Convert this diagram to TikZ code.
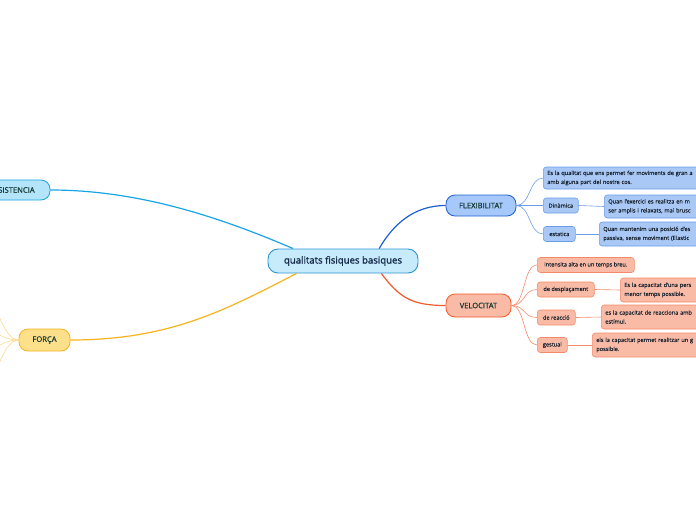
\documentclass[tikz,border=0pt]{standalone}
\usepackage{fontspec}
\setmainfont{Open Sans}[FakeBold=0.4]
\newfontfamily\titlefont{Open Sans}[FakeBold=1.6]
\newfontfamily\mainfont{Open Sans}[FakeBold=0.8]
\definecolor{rootF}{HTML}{C8EBFB}
\definecolor{rootB}{HTML}{2A94D6}
\definecolor{rootT}{HTML}{172B4D}
\definecolor{mainT}{HTML}{173A35}
\definecolor{leafT}{HTML}{1B2430}
\definecolor{flexF}{HTML}{A6C8FB}
\definecolor{flexB}{HTML}{1E5FCF}
\definecolor{flexL}{HTML}{6A9DE8}
\definecolor{flexLF}{HTML}{A9C8F5}
\definecolor{veloF}{HTML}{F9BBA6}
\definecolor{veloB}{HTML}{F15A29}
\definecolor{veloL}{HTML}{F58A6A}
\definecolor{resF}{HTML}{B3E4FA}
\definecolor{resB}{HTML}{18A4E6}
\definecolor{forF}{HTML}{FEE08A}
\definecolor{forB}{HTML}{F6B31B}
\definecolor{forL}{HTML}{FDDA8C}
\begin{document}
\begin{tikzpicture}[x=1pt,y=-1pt,
  every node/.style={font=\fontsize{5.6}{9}\selectfont},
  root/.style={draw=rootB, fill=rootF, line width=0.9pt, rounded corners=10pt,
    minimum width=150pt, minimum height=24pt, inner sep=0pt, text=rootT,
    font=\titlefont\fontsize{9.6}{11}\selectfont},
  mainbox/.style={line width=0.8pt, rounded corners=9pt, inner sep=0pt,
    text=mainT, font=\mainfont\fontsize{7.6}{9}\selectfont},
  flexbox/.style={mainbox, draw=flexB, fill=flexF},
  velobox/.style={mainbox, draw=veloB, fill=veloF},
  resbox/.style={mainbox, draw=resB, fill=resF},
  forbox/.style={mainbox, draw=forB, fill=forF},
  leaf/.style={anchor=west, rounded corners=3pt, line width=0.6pt,
    inner xsep=4pt, inner ysep=0pt, minimum height=15pt, text=leafT},
  longleaf/.style={leaf, text width=200pt, align=left, minimum height=24pt},
  fleaf/.style={leaf, draw=flexL, fill=flexLF},
  flong/.style={longleaf, draw=flexL, fill=flexLF},
  vleaf/.style={leaf, draw=veloL, fill=veloF},
  vlong/.style={longleaf, draw=veloL, fill=veloF},
  mainline/.style={line width=1.2pt},
  thinline/.style={line width=0.6pt}
]
\useasboundingbox (0,0) rectangle (696,520);

\node[root] (root) at (343,261) {qualitats fisiques basiques};
\node[flexbox, minimum width=70pt, minimum height=21pt] (flex) at (481,205.5) {FLEXIBILITAT};
\node[velobox, minimum width=65pt, minimum height=23pt] (velo) at (478.5,305.5) {VELOCITAT};
\node[resbox, minimum width=76pt, minimum height=20pt] (res) at (12,190) {RESISTENCIA};
\node[forbox, minimum width=51pt, minimum height=22pt] (forca) at (44.5,340) {FORÇA};

% flexibilitat leaves
\node[flong, minimum height=22pt] (fdesc) at (543,178) {Es la qualitat que ens permet fer moviments de gran a\\amb alguna part del nostre cos.};
\node[fleaf, minimum width=35pt] (fdin) at (543,205.5) {Dinàmica};
\node[flong, minimum height=23pt] (fdinT) at (604,206.5) {Quan l'exercici es realitza en m\\ser amplis i relaxats, mai brusc};
\node[fleaf, minimum width=32pt] (fest) at (543,234) {estatica};
\node[flong] (festT) at (599,234) {Quan mantenim una posició d'es\\passiva, sense moviment (Elastic};

% velocitat leaves
\node[vleaf, minimum width=97pt] (v1) at (537,265) {Intensita alta en un temps breu.};
\node[vleaf, minimum width=57pt] (v2) at (537,289.5) {de desplaçament};
\node[vlong] (v2T) at (620,290) {Es la capacitat d'una pers\\menor temps possible.};
\node[vleaf, minimum width=38pt] (v3) at (537,317.5) {de reacció};
\node[vlong] (v3T) at (601,317) {es la capacitat de reacciona amb\\estímul.};
\node[vleaf, minimum width=30pt] (v4) at (537,345) {gestual};
\node[vlong] (v4T) at (592,345) {els la capacitat permet realitzar un g\\possible.};

% force children (off canvas)
\coordinate (fa) at (-22,290);
\coordinate (fb) at (-22,329);
\coordinate (fc) at (-22,352);
\coordinate (fd) at (-22,390);

% connectors
\draw[mainline, draw=flexB] (root.19) .. controls +(14,-24) and +(-32,0) .. (flex.west);
\draw[mainline, draw=veloB] (root.-18) .. controls +(18,24) and +(-34,0) .. (velo.west);
\draw[mainline, draw=resB] (root.166) .. controls +(-70,-30) and +(90,0) .. (res.east);
\draw[mainline, draw=forB] (root.-165) .. controls +(-70,36) and +(100,0) .. (forca.east);

\draw[thinline, draw=flexL] (flex.east) .. controls +(14,0) and +(-14,0) .. (fdesc.west);
\draw[thinline, draw=flexL] (flex.east) .. controls +(14,0) and +(-14,0) .. (fdin.west);
\draw[thinline, draw=flexL] (flex.east) .. controls +(14,0) and +(-14,0) .. (fest.west);
\draw[thinline, draw=flexL] (fdin.east) -- (fdinT.west);
\draw[thinline, draw=flexL] (fest.east) -- (festT.west);

\draw[thinline, draw=veloL] (velo.east) .. controls +(14,0) and +(-14,0) .. (v1.west);
\draw[thinline, draw=veloL] (velo.east) .. controls +(14,0) and +(-14,0) .. (v2.west);
\draw[thinline, draw=veloL] (velo.east) .. controls +(14,0) and +(-14,0) .. (v3.west);
\draw[thinline, draw=veloL] (velo.east) .. controls +(14,0) and +(-14,0) .. (v4.west);
\draw[thinline, draw=veloL] (v2.east) -- (v2T.west);
\draw[thinline, draw=veloL] (v3.east) -- (v3T.west);
\draw[thinline, draw=veloL] (v4.east) -- (v4T.west);

\draw[thinline, draw=forL] (forca.west) .. controls +(-18,0) and +(18,0) .. (fa);
\draw[thinline, draw=forL] (forca.west) .. controls +(-18,0) and +(18,0) .. (fb);
\draw[thinline, draw=forL] (forca.west) .. controls +(-18,0) and +(18,0) .. (fc);
\draw[thinline, draw=forL] (forca.west) .. controls +(-18,0) and +(18,0) .. (fd);
\end{tikzpicture}
\end{document}
